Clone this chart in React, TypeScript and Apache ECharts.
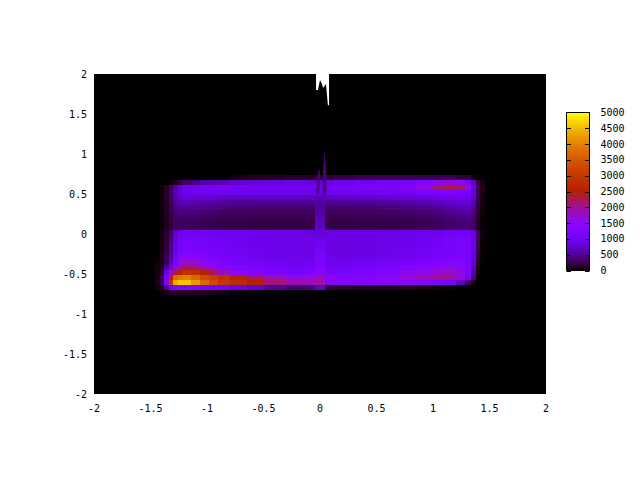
import React, { useEffect, useRef } from "react";
import * as echarts from "echarts";

const xEdges = [-1.46,-1.42,-1.38,-1.34,-1.30,-1.26,-1.22,-1.14,-1.06,-0.98,-0.90,-0.80,-0.65,-0.50,-0.30,-0.12,-0.04,0.04,0.12,0.30,0.50,0.70,0.85,1.00,1.10,1.20,1.28,1.34,1.38,1.42,1.46];
const yEdges = [0.7375,0.675,0.6125,0.55,0.4875,0.425,0.3625,0.30,0.2375,0.175,0.1125,0.05,-0.0125,-0.075,-0.1375,-0.20,-0.2625,-0.325,-0.3875,-0.45,-0.5125,-0.575,-0.6375,-0.70,-0.7625];

const cellValues = [
  [0,0,0,0,0,0,0,0,0,0,0,50,80,100,120,120,150,150,200,250,250,250,250,250,250,200,150,60,20,0],
  [0,0,0,30,100,200,350,450,550,600,650,750,800,850,900,850,800,900,1000,1050,1100,1150,1250,1500,1600,1500,1100,700,250,60],
  [0,30,120,300,550,750,900,1000,1050,1050,1050,1050,1050,1050,1050,1000,900,1050,1100,1150,1200,1350,1650,2200,2350,2250,1500,850,300,80],
  [0,40,130,320,600,800,950,1000,1000,1000,980,960,950,950,950,900,850,950,1000,1000,1000,1050,1100,1150,1200,1200,1100,800,280,70],
  [0,40,130,310,560,720,800,800,780,750,730,700,700,700,700,680,650,700,720,740,760,800,850,900,950,1000,950,700,260,60],
  [0,40,120,290,500,600,640,620,580,560,530,510,500,500,500,500,550,500,510,520,540,570,620,680,740,800,800,600,230,50],
  [0,35,110,260,420,480,500,480,440,420,400,380,370,370,370,370,520,370,370,380,400,420,460,520,580,640,660,500,200,40],
  [0,30,100,230,350,400,400,380,350,330,310,300,290,290,290,300,560,290,290,300,310,330,360,400,460,520,540,420,170,30],
  [0,30,90,210,310,340,340,320,300,280,270,260,250,250,250,260,600,250,250,260,270,280,300,340,380,430,460,360,150,25],
  [0,30,90,200,290,320,310,290,270,250,240,230,220,220,220,240,650,230,220,230,240,250,270,300,340,380,410,320,130,20],
  [0,30,85,190,270,300,290,270,250,240,230,220,210,210,210,230,700,220,210,220,230,240,260,290,320,350,370,290,110,15],
  [0,40,150,360,700,900,1000,1000,980,960,950,930,920,900,900,850,800,880,870,870,880,900,930,960,1000,1040,1040,820,300,50],
  [0,45,170,400,780,1000,1080,1070,1040,1020,1000,980,950,930,920,900,900,900,880,880,900,930,970,1020,1070,1120,1120,860,300,40],
  [0,50,180,430,830,1050,1130,1120,1080,1050,1020,990,960,930,900,900,1000,880,860,860,890,930,980,1040,1100,1160,1160,880,280,30],
  [0,60,200,470,880,1120,1180,1160,1120,1080,1040,1000,960,920,890,900,1050,870,850,860,900,950,1000,1060,1120,1180,1180,880,260,25],
  [0,70,230,520,950,1180,1260,1240,1180,1120,1070,1020,970,930,900,920,1100,890,870,880,930,980,1030,1090,1150,1190,1170,850,230,20],
  [0,80,260,600,1050,1350,1450,1420,1300,1200,1120,1060,1010,960,930,950,1150,930,910,930,980,1040,1090,1150,1200,1230,1170,820,190,15],
  [30,90,300,680,1150,1550,1750,1700,1500,1320,1200,1120,1060,1010,970,1000,1200,980,970,1000,1060,1120,1190,1250,1290,1300,1180,760,150,10],
  [50,130,500,900,1350,1850,2200,2150,1850,1550,1350,1230,1150,1080,1030,1080,1300,1040,1040,1080,1150,1250,1350,1450,1500,1450,1200,680,110,5],
  [60,180,900,1700,2300,2600,2850,2800,2500,2200,1850,1500,1320,1200,1120,1180,1400,1130,1140,1200,1320,1480,1600,1750,1800,1650,1200,560,60,0],
  [70,250,1150,2600,3700,3900,3950,3700,3350,3100,2850,2550,2200,1900,1650,1700,1800,1500,1350,1350,1450,1700,1900,2050,2000,1700,1100,400,30,0],
  [80,280,1200,3000,4400,4600,4600,4200,3700,3300,3000,2750,2500,2100,1850,1850,2000,1350,1300,1350,1400,1400,1350,1200,1100,700,300,60,0,0],
  [50,100,500,1100,1300,1350,1350,1300,1200,1100,1050,900,750,500,350,400,700,200,150,120,100,80,60,50,30,0,0,0,0,0],
  [0,30,60,120,130,130,120,100,80,60,50,30,20,0,0,0,0,0,0,0,0,0,0,0,0,0,0,0,0,0],
];

const spikeRight = [[0.038,1.06],[0.06,0.70],[0.055,0.48],[0.028,0.48],[0.024,0.70]];
const spikeLeft = [[-0.009,0.83],[0.004,0.70],[-0.012,0.50],[-0.032,0.50],[-0.024,0.70]];
const spikeValues = [400, 400];
const undefinedRegion = [[-0.035,2],[0.08,2],[0.08,1.61],[0.07,1.61],[0.053,1.875],[0.027,1.824],[0.018,1.875],[0,1.925],[-0.018,1.8],[-0.035,1.8]];

const colorbarMax = 5000;
const colorbarTicks = [0,500,1000,1500,2000,2500,3000,3500,4000,4500,5000];

function paletteColor(t: number) {
  const r = Math.round(255 * Math.sqrt(t));
  const g = Math.round(255 * t * t * t);
  const b = Math.round(255 * Math.max(0, Math.sin(2 * Math.PI * t)));
  return `rgb(${r},${g},${b})`;
}

export default function App() {
  const ref = useRef<HTMLDivElement>(null);
  useEffect(() => {
    const chart = echarts.init(ref.current!, null, { renderer: "svg" });
    const cells: number[][] = [];
    cellValues.forEach((row, r) =>
      row.forEach((v, c) => {
        if (v > 0) cells.push([xEdges[c], xEdges[c + 1], yEdges[r], yEdges[r + 1], v]);
      })
    );
    const stops = Array.from({ length: 65 }, (_, i) => paletteColor(i / 64));
    const font = { fontFamily: "DejaVu Sans Mono", fontSize: 10, color: "#000" };
    const plain = (v: number) => String(v);
    const polygon = (pts: number[][], fill: any, api: any) => ({
      type: "polygon",
      shape: { points: pts.map((p) => api.coord(p)) },
      style: { fill },
    });
    const barX = 566.5, barY = 112.5, barW = 23, barH = 158;
    chart.setOption({
      animation: false,
      backgroundColor: "#fff",
      grid: [
        { left: 94, top: 74, width: 452, height: 320, show: true, backgroundColor: "#000", borderWidth: 0 },
        { left: barX, top: barY, width: barW, height: barH, show: false },
      ],
      xAxis: [
        { type: "value", gridIndex: 0, min: -2, max: 2, interval: 0.5, splitLine: { show: false }, axisTick: { show: false }, axisLine: { show: false }, axisLabel: { ...font, margin: 9, formatter: plain } },
        { type: "value", gridIndex: 1, min: 0, max: 1, show: false },
      ],
      yAxis: [
        { type: "value", gridIndex: 0, min: -2, max: 2, interval: 0.5, splitLine: { show: false }, axisTick: { show: false }, axisLine: { show: false }, axisLabel: { ...font, margin: 7, formatter: plain } },
        { type: "value", gridIndex: 1, position: "right", min: 0, max: colorbarMax, interval: 500, splitLine: { show: false }, axisLine: { show: false }, axisTick: { show: false }, axisLabel: { ...font, margin: 11, align: "left", formatter: plain } },
      ],
      visualMap: {
        type: "continuous",
        min: 0,
        max: colorbarMax,
        show: false,
        seriesIndex: [0, 1],
        dimension: 4,
        inRange: { color: stops },
      },
      graphic: [
        {
          type: "rect",
          z: 1,
          silent: true,
          shape: { x: barX, y: barY, width: barW, height: barH },
          style: {
            fill: new echarts.graphic.LinearGradient(0, 1, 0, 0, stops.map((color, i) => ({ offset: i / 64, color }))),
            stroke: "#000",
            lineWidth: 1,
          },
        },
      ],
      series: [
        {
          type: "custom",
          coordinateSystem: "cartesian2d",
          xAxisIndex: 0,
          yAxisIndex: 0,
          data: cells,
          dimensions: ["x0", "x1", "y0", "y1", "v"],
          encode: { x: [0, 1], y: [2, 3] },
          renderItem: (_: any, api: any) => {
            const a = api.coord([api.value(0), api.value(2)]);
            const b = api.coord([api.value(1), api.value(3)]);
            return {
              type: "rect",
              shape: { x: Math.round(a[0]), y: Math.round(a[1]), width: Math.round(b[0]) - Math.round(a[0]), height: Math.round(b[1]) - Math.round(a[1]) },
              style: { fill: api.visual("color") },
            };
          },
        },
        {
          type: "custom",
          coordinateSystem: "cartesian2d",
          xAxisIndex: 0,
          yAxisIndex: 0,
          z: 3,
          data: spikeValues.map((v, i) => [i, 0, 0, 0, v]),
          dimensions: ["i", "a", "b", "c", "v"],
          encode: { x: 0 },
          clip: false,
          renderItem: (params: any, api: any) =>
            polygon([spikeRight, spikeLeft][params.dataIndex], api.visual("color"), api),
        },
        {
          type: "custom",
          coordinateSystem: "cartesian2d",
          xAxisIndex: 0,
          yAxisIndex: 0,
          z: 3,
          data: [[0, 2]],
          encode: { x: 0, y: 1 },
          renderItem: (_: any, api: any) => polygon(undefinedRegion, "#fff", api),
        },
        {
          type: "custom",
          coordinateSystem: "cartesian2d",
          xAxisIndex: 1,
          yAxisIndex: 1,
          z: 20,
          data: colorbarTicks.map((t) => [0, t]),
          encode: { x: 0, y: 1 },
          clip: false,
          renderItem: (_: any, api: any) => {
            const y = Math.round(api.coord([0, api.value(1)])[1]) + 0.5;
            const stroke = { stroke: "#000", lineWidth: 1 };
            return {
              type: "group",
              children: [
                { type: "line", shape: { x1: barX, y1: y, x2: barX + 4.5, y2: y }, style: stroke },
                { type: "line", shape: { x1: barX + barW - 4.5, y1: y, x2: barX + barW, y2: y }, style: stroke },
              ],
            };
          },
        },
      ],
    });
    return () => chart.dispose();
  }, []);
  return <div ref={ref} style={{ position: "fixed", left: 0, top: 0, width: 640, height: 480, background: "#fff" }} />;
}
